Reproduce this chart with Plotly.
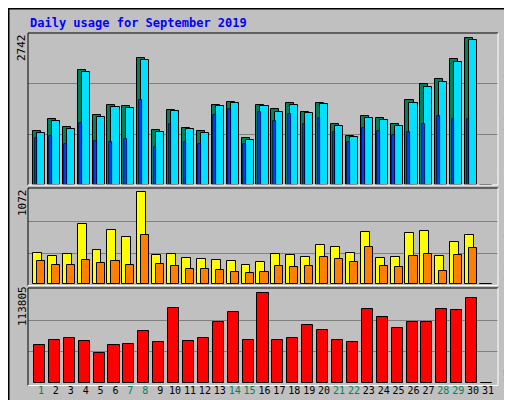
import plotly.graph_objects as go

days = list(range(1, 32))
hits = [982,1199,1055,2085,1272,1452,1434,2302,1000,1362,1036,982,1452,1507,856,1452,1380,1488,1326,1488,1109,892,1253,1217,1109,1543,1832,1922,2284,2664,0]
files = [946,1163,1018,2049,1235,1416,1398,2266,964,1344,1018,946,1434,1488,820,1434,1326,1452,1308,1470,1073,874,1217,1181,1073,1488,1778,1868,2230,2627,0]
pages = [856,892,747,1127,801,783,838,1543,693,1109,783,747,1272,1380,747,1326,1163,1290,1109,1217,964,783,1036,982,910,964,1109,1253,1199,1199,0]
visits = [347,314,336,672,381,605,527,1031,325,336,291,280,269,258,213,247,336,325,303,437,415,347,583,291,303,571,594,314,471,549,0]
sites = [258,213,213,269,235,258,213,549,224,202,168,168,157,134,123,134,202,190,202,303,280,247,415,202,190,314,336,146,325,403,0]
kbytes = [45522,51512,53907,50314,35938,45522,46720,62293,49116,91044,50314,53907,73075,86252,51512,109013,51512,53907,69481,63491,51512,49116,89846,80263,65887,73075,73075,89846,88648,103024,0]
weekend = {1,7,8,14,15,21,22,28,29}
max_hits, max_visits, max_kb = 2742, 1072, 113805

GREY = "#C0C0C0"
fig = go.Figure()
ln = dict(color="black", width=1)
fig.add_bar(x=days, y=hits, width=0.54, offset=-0.54, marker=dict(color="#00805C", line=ln), xaxis="x", yaxis="y")
fig.add_bar(x=days, y=files, width=0.54, offset=-0.27, marker=dict(color="#00E0FF", line=ln), xaxis="x", yaxis="y")
fig.add_bar(x=days, y=pages, width=0.18, offset=-0.43, marker=dict(color="#0040FF", line=dict(color="black", width=0.7)), xaxis="x", yaxis="y")
fig.add_bar(x=days, y=visits, width=0.6, offset=-0.54, marker=dict(color="#FFFF00", line=ln), xaxis="x2", yaxis="y2")
fig.add_bar(x=days, y=sites, width=0.54, offset=-0.27, marker=dict(color="#FF8000", line=ln), xaxis="x2", yaxis="y2")
fig.add_bar(x=days, y=kbytes, width=0.74, offset=-0.47, marker=dict(color="#FF0000", line=ln), xaxis="x3", yaxis="y3")

xr = [0.13, 31.67]
xd = [20/512, 490/512]
ticktext = [f"<span style='color:{'#00805C' if d in weekend else 'black'}'>{d}</span>" for d in days]
common_x = dict(range=xr, domain=xd, showgrid=False, zeroline=False, showline=False, ticks="")
grid = dict(showgrid=True, gridcolor="#808080", gridwidth=1, zeroline=False, showticklabels=False, ticks="", showline=False)
fig.update_layout(
    width=512, height=400, margin=dict(l=0, r=0, t=0, b=0),
    paper_bgcolor=GREY, plot_bgcolor=GREY, barmode="overlay", showlegend=False,
    bargap=0,
    xaxis=dict(**common_x, anchor="y", showticklabels=False),
    xaxis2=dict(**common_x, anchor="y2", showticklabels=False),
    xaxis3=dict(**common_x, anchor="y3", tickvals=days, ticktext=ticktext, tickangle=0,
                tickfont=dict(family="DejaVu Sans Mono", size=10, color="black")),
    yaxis=dict(**grid, domain=[(400-176.8)/400, (400-25)/400], range=[0, 2750], tickvals=[914, 1828]),
    yaxis2=dict(**grid, domain=[(400-276.3)/400, (400-180)/400], range=[0, 1075], tickvals=[340, 706]),
    yaxis3=dict(**grid, domain=[(400-375.3)/400, (400-280)/400], range=[0, 114500], tickvals=[37935, 75870]),
    font=dict(family="DejaVu Sans Mono"),
)

def px(x, y):
    return x/512, 1 - y/400

shapes = [dict(type="rect", xref="paper", yref="paper", x0=0.001, y0=0.001, x1=0.999, y1=0.999, line=dict(color="black", width=2))]
for top, bot in [(25, 177), (180, 277.5), (280, 377.5)]:
    x0, y1 = px(20, top); x1, y0 = px(490, bot)
    shapes.append(dict(type="line", xref="paper", yref="paper", x0=x0, y0=y0, x1=x0, y1=y1, line=dict(color="black", width=1)))
    shapes.append(dict(type="line", xref="paper", yref="paper", x0=x0, y0=y1, x1=x1, y1=y1, line=dict(color="black", width=1)))
    shapes.append(dict(type="line", xref="paper", yref="paper", x0=x1, y0=y0, x1=x1, y1=y1, line=dict(color="white", width=1)))
    shapes.append(dict(type="line", xref="paper", yref="paper", x0=x0, y0=y0, x1=x1, y1=y0, line=dict(color="white", width=1)))
fig.update_layout(shapes=shapes)

def ann(x, y, text, color="black", angle=0, size=11, bold=False, xanchor="center", yanchor="middle"):
    ax, ay = px(x, y)
    t = f"<b>{text}</b>" if bold else text
    fig.add_annotation(x=ax, y=ay, xref="paper", yref="paper", text=t, showarrow=False, textangle=angle,
                       font=dict(family="DejaVu Sans Mono", size=size, color=color), xanchor=xanchor, yanchor=yanchor)

ann(20, 15, "Daily usage for September 2019", color="#0000FF", bold=True, size=12, xanchor="left")
ann(14, 40, str(max_hits), angle=-90)
ann(14, 195, str(max_visits), angle=-90)
ann(14, 298, str(max_kb), angle=-90)
ann(500, 100, "<span style='color:#00E0FF'>Pages</span> / <span style='color:#0040FF'>Files</span> / <span style='color:#00805C'>Hits</span>", angle=-90)
ann(500, 227, "<span style='color:#FF8000'>Sites</span> / <span style='color:#FFFF00'>Visits</span>", angle=-90)
ann(500, 353, "KBytes", color="#FF0000", angle=-90)

fig.write_html("out.html")
